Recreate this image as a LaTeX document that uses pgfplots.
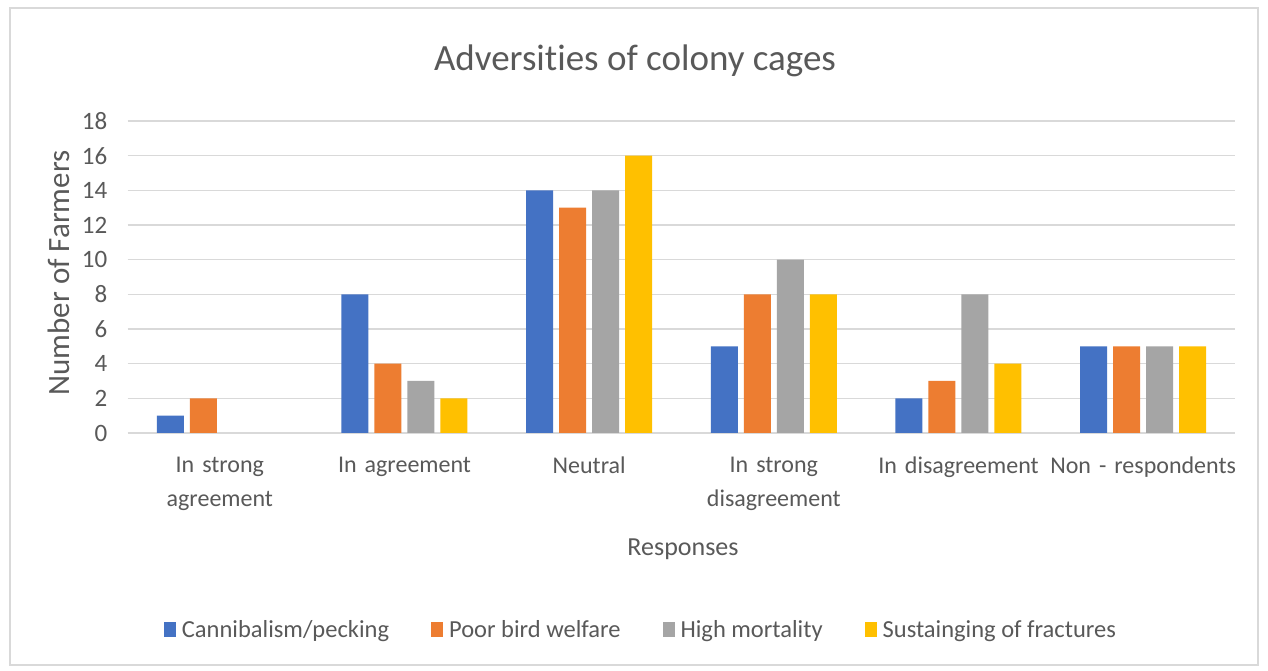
\documentclass[border=0pt]{standalone}
\usepackage{pgfplots}
\pgfplotsset{compat=1.18}
\usepackage{fontspec}
\setmainfont{Carlito}[Ligatures=NoCommon]
\definecolor{cblue}{HTML}{4472C4}
\definecolor{corange}{HTML}{ED7D31}
\definecolor{cgray}{HTML}{A5A5A5}
\definecolor{cyellow}{HTML}{FFC000}
\definecolor{tgray}{HTML}{595959}
\definecolor{ggray}{HTML}{D9D9D9}
\begin{document}
\begin{tikzpicture}
\fill[white] (0pt,0pt) rectangle (1268pt,671pt);
\draw[color=ggray, line width=1.5pt] (10pt,6pt) rectangle (1258pt,663pt);
\node[font=\fontsize{37}{44}\selectfont, text=tgray] at (635pt,610pt) {Adversities of colony cages};
\begin{axis}[
  at={(127.5pt,238pt)}, anchor=south west,
  scale only axis, width=1108pt, height=312pt,
  xmin=-0.5, xmax=5.5, ymin=0, ymax=18,
  ybar=6pt, bar width=27pt,
  axis line style={draw=none},
  ymajorgrids, grid style={ggray, line width=1.2pt},
  ytick={0,2,...,18},
  xtick={0,1,2,3,4,5},
  xticklabels={{In strong\\agreement},{In agreement},{Neutral},{In strong\\disagreement},{In disagreement},{Non - respondents}},
  major tick length=0pt,
  /pgf/number format/assume math mode=true,
  yticklabel style={font=\fontsize{25}{30}\selectfont, text=tgray, anchor=east, inner sep=0pt, xshift=-20pt},
  xticklabel style={font=\fontsize{24}{34}\selectfont, text=tgray, text width=220pt, align=center, anchor=north, inner sep=0pt, yshift=-24pt},
  legend columns=4,
  legend style={draw=none, fill=none, at={(0.4634,-0.631)}, anchor=center,
     font=\fontsize{24.5}{30}\selectfont, text=tgray,
     /tikz/every even column/.append style={column sep=40pt},
     /tikz/every odd column/.append style={column sep=4pt}},
  legend image code/.code={\fill[#1] (0pt,-7pt) rectangle (12pt,8pt);},
  clip=false,
]
\addplot[fill=cblue, draw=none] coordinates {(0,1) (1,8) (2,14) (3,5) (4,2) (5,5)};
\addplot[fill=corange, draw=none] coordinates {(0,2) (1,4) (2,13) (3,8) (4,3) (5,5)};
\addplot[fill=cgray, draw=none] coordinates {(1,3) (2,14) (3,10) (4,8) (5,5)};
\addplot[fill=cyellow, draw=none] coordinates {(1,2) (2,16) (3,8) (4,4) (5,5)};
\legend{Cannibalism/pecking, Poor bird welfare, High mortality, Sustainging of fractures}
\end{axis}
\node[font=\fontsize{31}{36}\selectfont, text=tgray, rotate=90] at (59pt,398pt) {Number of Farmers};
\node[font=\fontsize{26}{30}\selectfont, text=tgray] at (683pt,122pt) {Responses};
\end{tikzpicture}
\end{document}
